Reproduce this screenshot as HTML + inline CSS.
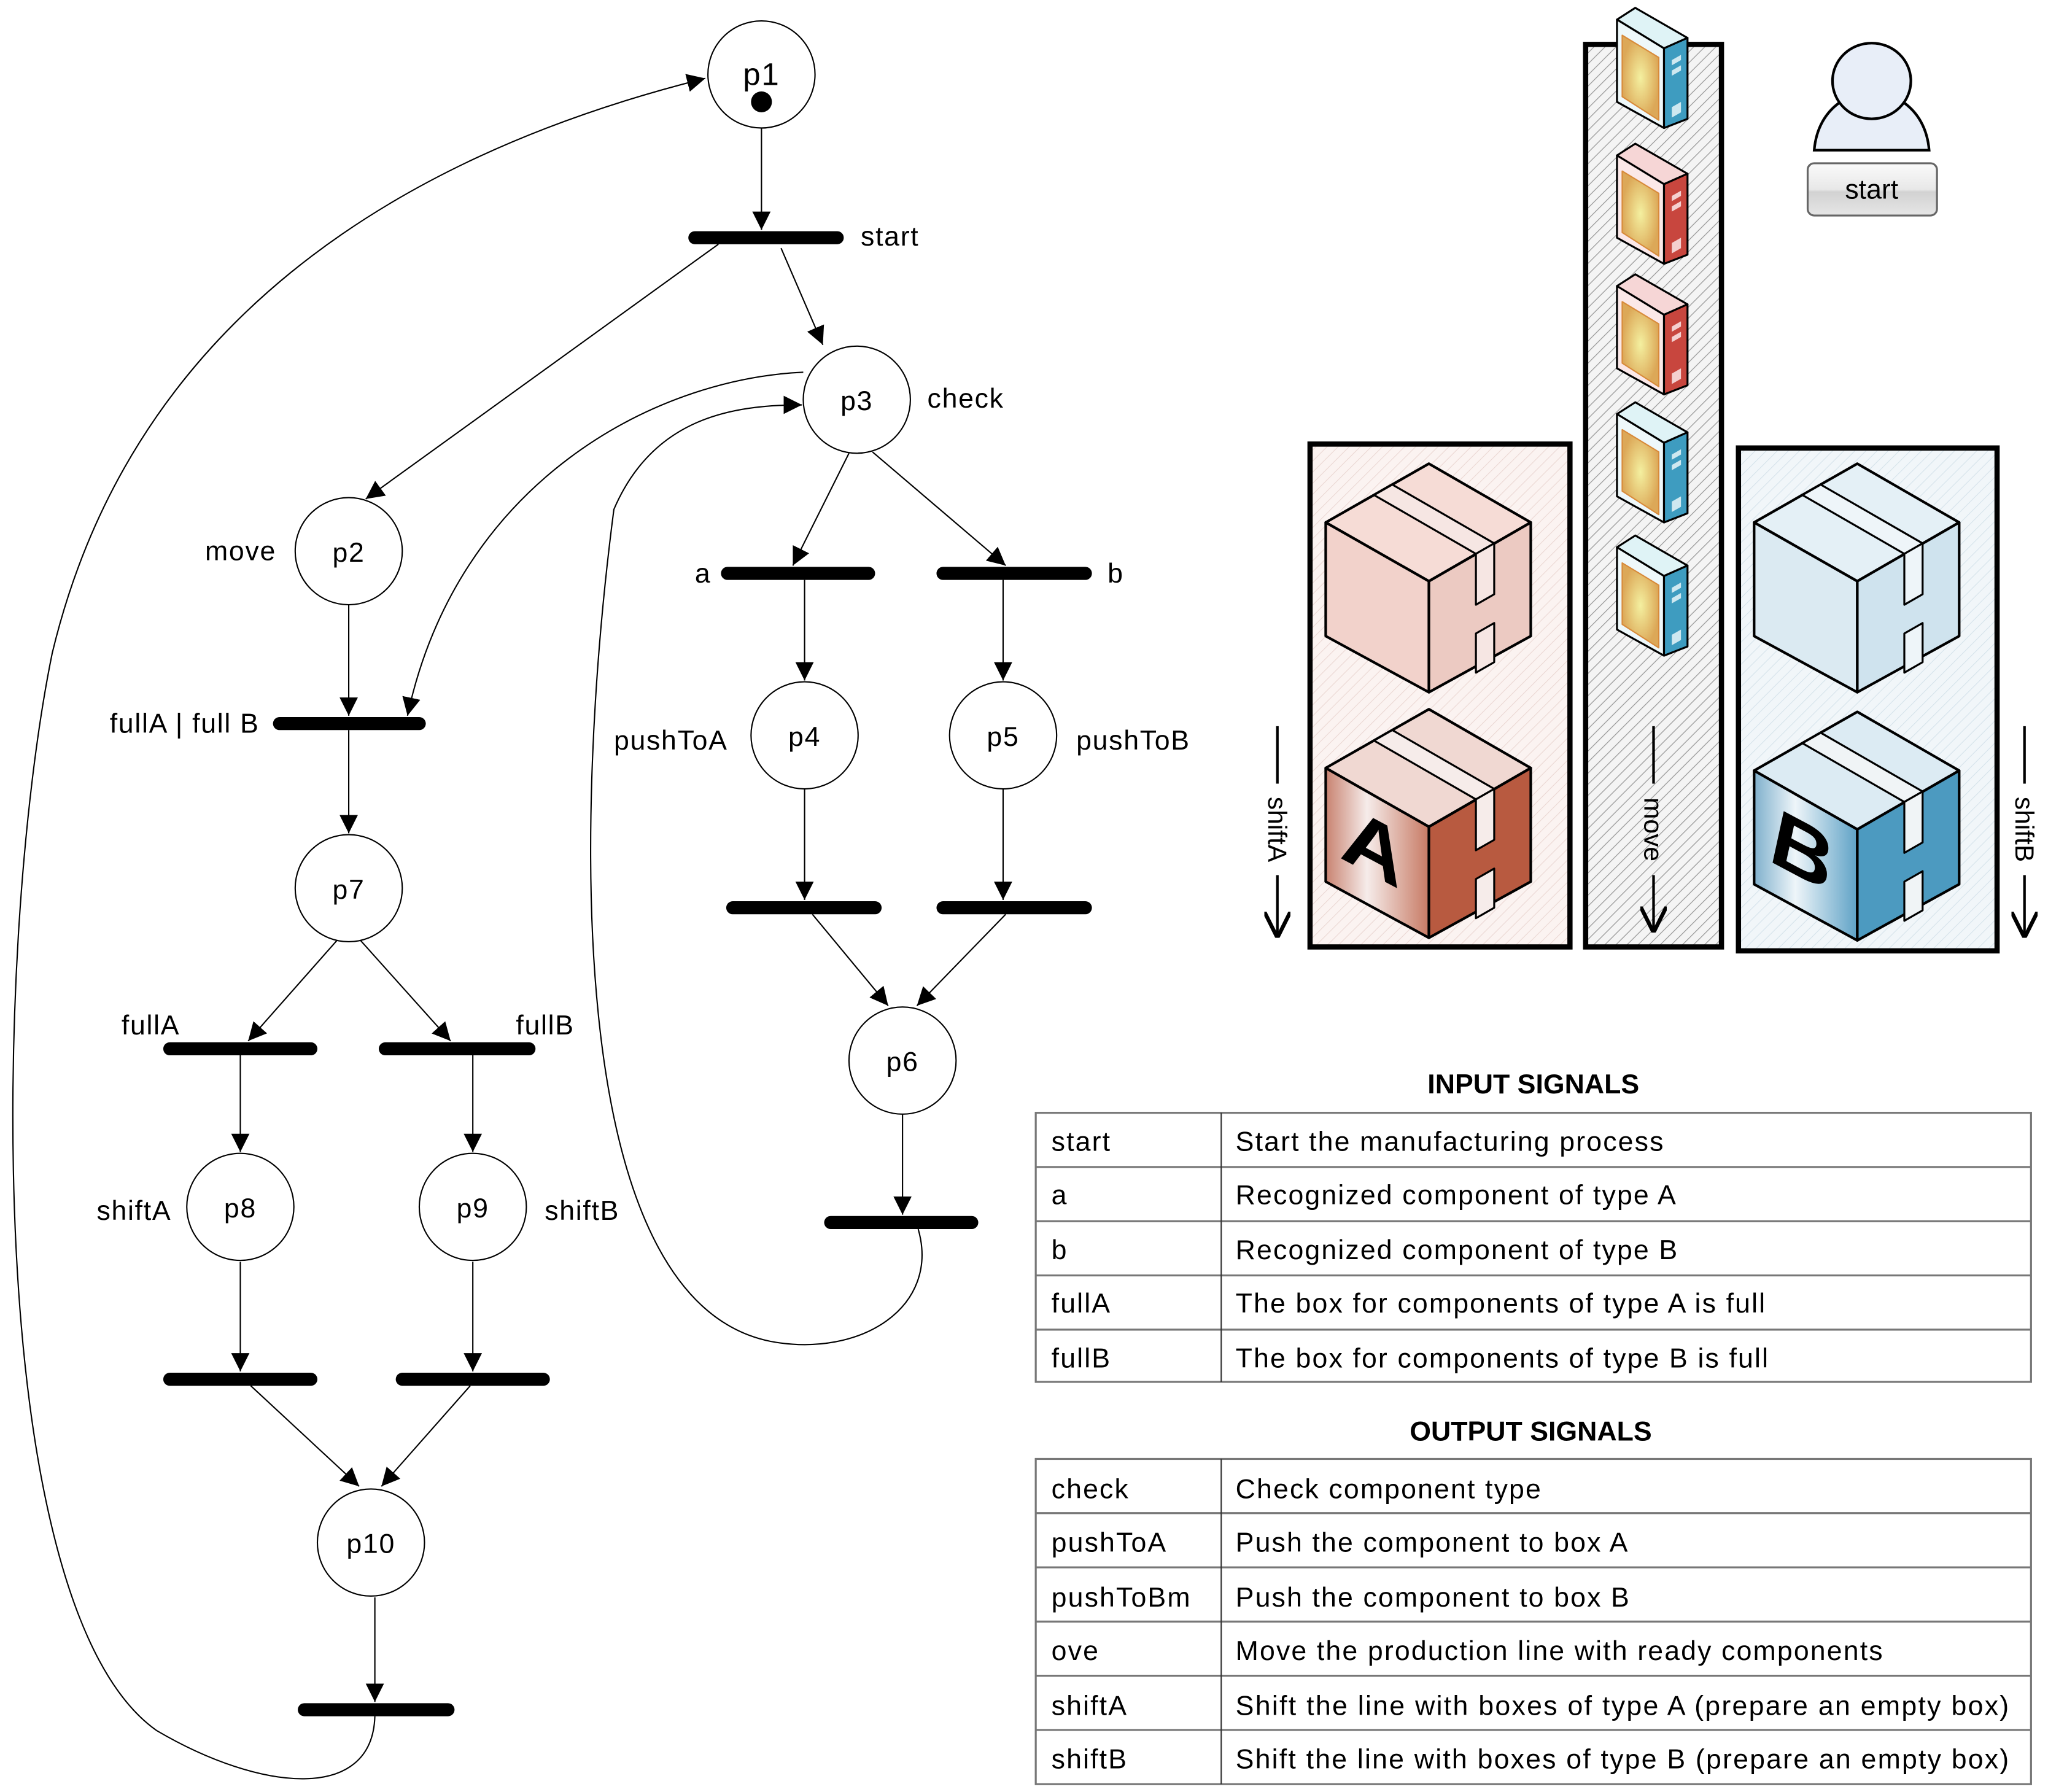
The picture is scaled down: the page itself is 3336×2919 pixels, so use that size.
<!DOCTYPE html>
<html><head><meta charset="utf-8"><style>html,body{margin:0;padding:0;background:#fff}svg{display:block}</style></head>
<body>
<svg xmlns="http://www.w3.org/2000/svg" width="3336" height="2919" viewBox="0 0 1568 1372" font-family="Liberation Sans, sans-serif">
<defs>
<marker id="ah" viewBox="0 0 10 10" refX="10" refY="5" markerWidth="14" markerHeight="14" markerUnits="userSpaceOnUse" orient="auto"><path d="M0,0 L10,5 L0,10 z" fill="#000"/></marker>
<marker id="ah2" viewBox="0 0 10 10" refX="10" refY="5" markerWidth="20" markerHeight="20" markerUnits="userSpaceOnUse" orient="auto"><path d="M0,0 L10,5 L0,10" fill="none" stroke="#000" stroke-width="1.5"/></marker>
<pattern id="hatch" width="6" height="6" patternUnits="userSpaceOnUse" patternTransform="rotate(45)"><rect width="6" height="6" fill="#f4f4f4"/><line x1="0" y1="0" x2="0" y2="6" stroke="#999" stroke-width="1.2"/></pattern>
<pattern id="hatchA" width="6" height="6" patternUnits="userSpaceOnUse" patternTransform="rotate(45)"><rect width="6" height="6" fill="#fbf3f1"/><line x1="0" y1="0" x2="0" y2="6" stroke="#ead6d2" stroke-width="1"/></pattern>
<pattern id="hatchB" width="6" height="6" patternUnits="userSpaceOnUse" patternTransform="rotate(45)"><rect width="6" height="6" fill="#f1f6f9"/><line x1="0" y1="0" x2="0" y2="6" stroke="#d4e2ea" stroke-width="1"/></pattern>
<radialGradient id="yel"><stop offset="0" stop-color="#f4f0a0"/><stop offset="1" stop-color="#dca858"/></radialGradient>
<linearGradient id="gA" x1="0" y1="0" x2="1" y2="0"><stop offset="0" stop-color="#c88270"/><stop offset="0.4" stop-color="#f6ecea"/><stop offset="1" stop-color="#c77a64"/></linearGradient>
<linearGradient id="gB" x1="0" y1="0" x2="1" y2="0"><stop offset="0" stop-color="#7fb0cc"/><stop offset="0.4" stop-color="#eef5f9"/><stop offset="1" stop-color="#5fa2c6"/></linearGradient>
<linearGradient id="btn" x1="0" y1="0" x2="0" y2="1"><stop offset="0" stop-color="#fafafa"/><stop offset="0.5" stop-color="#e8e8e8"/><stop offset="0.55" stop-color="#d2d2d2"/><stop offset="1" stop-color="#e6e6e6"/></linearGradient>
</defs>

<g fill="none" stroke="#000" stroke-width="1">
<circle cx="583" cy="57" r="41" fill="#fff"/>
<circle cx="656" cy="306" r="41" fill="#fff"/>
<circle cx="267" cy="422" r="41" fill="#fff"/>
<circle cx="267" cy="680" r="41" fill="#fff"/>
<circle cx="184" cy="924" r="41" fill="#fff"/>
<circle cx="362" cy="924" r="41" fill="#fff"/>
<circle cx="284" cy="1181" r="41" fill="#fff"/>
<circle cx="616" cy="563" r="41" fill="#fff"/>
<circle cx="768" cy="563" r="41" fill="#fff"/>
<circle cx="691" cy="812" r="41" fill="#fff"/>

<g marker-end="url(#ah)">
<path d="M583 98 L583 176"/>
<path d="M550 187 L280 382"/>
<path d="M598 190 L630 264"/>
<path d="M650 347 L607 433"/>
<path d="M668 346 L770 433"/>
<path d="M616 444 L616 521"/>
<path d="M768 444 L768 521"/>
<path d="M616 604 L616 689"/>
<path d="M768 604 L768 689"/>
<path d="M622 700 L680 770"/>
<path d="M770 700 L702 770"/>
<path d="M691 853 L691 930"/>
<path d="M703 941 C720 1000 660 1040 590 1027 C430 995 440 620 470 390 C500 320 560 310 614 310"/>
<path d="M615 285 C500 290 350 370 312 548"/>
<path d="M267 463 L267 548"/>
<path d="M267 559 L267 638"/>
<path d="M258 720 L190 797"/>
<path d="M276 720 L345 797"/>
<path d="M184 808 L184 882"/>
<path d="M362 808 L362 882"/>
<path d="M184 966 L184 1050"/>
<path d="M362 966 L362 1050"/>
<path d="M192 1061 L275 1138"/>
<path d="M360 1061 L292 1138"/>
<path d="M287 1223 L287 1303"/>
<path d="M287 1314 C285 1380 200 1372 120 1325 C-15 1230 -5 720 40 500 C100 250 300 120 540 60"/>
</g>
</g>
<circle cx="583" cy="78" r="8" fill="#000"/>

<g stroke="#000" stroke-width="10" stroke-linecap="round">
<line x1="532" y1="182" x2="641" y2="182"/>
<line x1="214" y1="554" x2="321" y2="554"/>
<line x1="130" y1="803" x2="238" y2="803"/>
<line x1="295" y1="803" x2="405" y2="803"/>
<line x1="130" y1="1056" x2="238" y2="1056"/>
<line x1="308" y1="1056" x2="416" y2="1056"/>
<line x1="233" y1="1309" x2="343" y2="1309"/>
<line x1="557" y1="439" x2="665" y2="439"/>
<line x1="722" y1="439" x2="831" y2="439"/>
<line x1="561" y1="695" x2="670" y2="695"/>
<line x1="722" y1="695" x2="831" y2="695"/>
<line x1="636" y1="936" x2="744" y2="936"/>
</g>

<g font-size="21" fill="#000" letter-spacing="0.8">
<text x="583" y="65" text-anchor="middle" font-size="24">p1</text>
<text x="656" y="314" text-anchor="middle">p3</text>
<text x="267" y="430" text-anchor="middle">p2</text>
<text x="267" y="688" text-anchor="middle">p7</text>
<text x="184" y="932" text-anchor="middle">p8</text>
<text x="362" y="932" text-anchor="middle">p9</text>
<text x="284" y="1189" text-anchor="middle">p10</text>
<text x="616" y="571" text-anchor="middle">p4</text>
<text x="768" y="571" text-anchor="middle">p5</text>
<text x="691" y="820" text-anchor="middle">p6</text>
<text x="659" y="188">start</text>
<text x="710" y="312">check</text>
<text x="157" y="429">move</text>
<text x="84" y="561">fullA | full B</text>
<text x="93" y="792">fullA</text>
<text x="395" y="792">fullB</text>
<text x="74" y="934">shiftA</text>
<text x="417" y="934">shiftB</text>
<text x="532" y="446">a</text>
<text x="848" y="446">b</text>
<text x="470" y="574">pushToA</text>
<text x="824" y="574">pushToB</text>
</g>

<rect x="1003" y="340" width="199" height="385" fill="url(#hatchA)" stroke="#000" stroke-width="4"/>
<rect x="1214" y="34" width="104" height="691" fill="url(#hatch)" stroke="#000" stroke-width="4"/>
<rect x="1331" y="343" width="198" height="385" fill="url(#hatchB)" stroke="#000" stroke-width="4"/>

<g stroke="#000" stroke-width="2" stroke-linejoin="round">
<g transform="translate(1094,355)">
<polygon points="0,0 78,45 0,90 -79,45" fill="#f6dcd6"/>
<polygon points="-79,45 0,90 0,175 -79,132" fill="#f2d2cb"/>
<polygon points="0,90 78,45 78,132 0,175" fill="#eccac2"/>
<polygon points="-42,24 -28,16 50,61 36,69" fill="#f6e6e3" stroke-width="1.5"/>
<polygon points="36,69 50,61 50,100 36,108" fill="#f6e6e3" stroke-width="1.5"/>
<polygon points="36,130 50,122 50,152 36,160" fill="#f6e6e3" stroke-width="1.5"/>
</g>
<g transform="translate(1094,543)">
<polygon points="0,0 78,45 0,90 -79,45" fill="#f0d8d2"/>
<polygon points="-79,45 0,90 0,175 -79,132" fill="url(#gA)"/>
<polygon points="0,90 78,45 78,132 0,175" fill="#b85a40"/>
<polygon points="-42,24 -28,16 50,61 36,69" fill="#f6ecea" stroke-width="1.5"/>
<polygon points="36,69 50,61 50,100 36,108" fill="#f6ecea" stroke-width="1.5"/>
<polygon points="36,130 50,122 50,152 36,160" fill="#f6ecea" stroke-width="1.5"/>
<text x="-66" y="150" font-size="64" font-weight="bold" font-style="italic" stroke="none" fill="#000" transform="skewY(28)">A</text>
</g>
<g transform="translate(1422,355)">
<polygon points="0,0 78,45 0,90 -79,45" fill="#e4f0f6"/>
<polygon points="-79,45 0,90 0,175 -79,132" fill="#dbeaf2"/>
<polygon points="0,90 78,45 78,132 0,175" fill="#cfe3ee"/>
<polygon points="-42,24 -28,16 50,61 36,69" fill="#eef5f9" stroke-width="1.5"/>
<polygon points="36,69 50,61 50,100 36,108" fill="#eef5f9" stroke-width="1.5"/>
<polygon points="36,130 50,122 50,152 36,160" fill="#eef5f9" stroke-width="1.5"/>
</g>
<g transform="translate(1422,545)">
<polygon points="0,0 78,45 0,90 -79,45" fill="#dcebf3"/>
<polygon points="-79,45 0,90 0,175 -79,132" fill="url(#gB)"/>
<polygon points="0,90 78,45 78,132 0,175" fill="#4c9ac0"/>
<polygon points="-42,24 -28,16 50,61 36,69" fill="#f0f4f6" stroke-width="1.5"/>
<polygon points="36,69 50,61 50,100 36,108" fill="#f0f4f6" stroke-width="1.5"/>
<polygon points="36,130 50,122 50,152 36,160" fill="#f0f4f6" stroke-width="1.5"/>
<text x="-66" y="150" font-size="64" font-weight="bold" font-style="italic" stroke="none" fill="#000" transform="skewY(28)">B</text>
</g>
</g>

<g stroke="#000" stroke-width="1.5" stroke-linejoin="round">
<g transform="translate(1252,6)">
<polygon points="0,0 40,23 22,31 -14,9" fill="#dff3f6"/>
<polygon points="-14,9 22,31 22,92 -14,72" fill="#eef8fa"/>
<polygon points="22,31 40,23 40,85 22,92" fill="#3e9cc0"/>
<polygon points="-10,21 18,38 18,86 -10,68" fill="url(#yel)" stroke="#d88a3a" stroke-width="1"/>
<polygon points="28,40 35,36 35,40 28,44" fill="#cfe8f0" stroke="none"/><polygon points="28,48 35,44 35,48 28,52" fill="#cfe8f0" stroke="none"/><polygon points="28,76 35,72 35,80 28,84" fill="#cfe8f0" stroke="none"/>
</g>
<g transform="translate(1252,110)">
<polygon points="0,0 40,23 22,31 -14,9" fill="#f6d6d6"/>
<polygon points="-14,9 22,31 22,92 -14,72" fill="#fbe8e8"/>
<polygon points="22,31 40,23 40,85 22,92" fill="#c8463e"/>
<polygon points="-10,21 18,38 18,86 -10,68" fill="url(#yel)" stroke="#d88a3a" stroke-width="1"/>
<polygon points="28,40 35,36 35,40 28,44" fill="#f4d0d0" stroke="none"/><polygon points="28,48 35,44 35,48 28,52" fill="#f4d0d0" stroke="none"/><polygon points="28,76 35,72 35,80 28,84" fill="#f4d0d0" stroke="none"/>
</g>
<g transform="translate(1252,210)">
<polygon points="0,0 40,23 22,31 -14,9" fill="#f6d6d6"/>
<polygon points="-14,9 22,31 22,92 -14,72" fill="#fbe8e8"/>
<polygon points="22,31 40,23 40,85 22,92" fill="#c8463e"/>
<polygon points="-10,21 18,38 18,86 -10,68" fill="url(#yel)" stroke="#d88a3a" stroke-width="1"/>
<polygon points="28,40 35,36 35,40 28,44" fill="#f4d0d0" stroke="none"/><polygon points="28,48 35,44 35,48 28,52" fill="#f4d0d0" stroke="none"/><polygon points="28,76 35,72 35,80 28,84" fill="#f4d0d0" stroke="none"/>
</g>
<g transform="translate(1252,308)">
<polygon points="0,0 40,23 22,31 -14,9" fill="#dff3f6"/>
<polygon points="-14,9 22,31 22,92 -14,72" fill="#eef8fa"/>
<polygon points="22,31 40,23 40,85 22,92" fill="#3e9cc0"/>
<polygon points="-10,21 18,38 18,86 -10,68" fill="url(#yel)" stroke="#d88a3a" stroke-width="1"/>
<polygon points="28,40 35,36 35,40 28,44" fill="#cfe8f0" stroke="none"/><polygon points="28,48 35,44 35,48 28,52" fill="#cfe8f0" stroke="none"/><polygon points="28,76 35,72 35,80 28,84" fill="#cfe8f0" stroke="none"/>
</g>
<g transform="translate(1252,410)">
<polygon points="0,0 40,23 22,31 -14,9" fill="#dff3f6"/>
<polygon points="-14,9 22,31 22,92 -14,72" fill="#eef8fa"/>
<polygon points="22,31 40,23 40,85 22,92" fill="#3e9cc0"/>
<polygon points="-10,21 18,38 18,86 -10,68" fill="url(#yel)" stroke="#d88a3a" stroke-width="1"/>
<polygon points="28,40 35,36 35,40 28,44" fill="#cfe8f0" stroke="none"/><polygon points="28,48 35,44 35,48 28,52" fill="#cfe8f0" stroke="none"/><polygon points="28,76 35,72 35,80 28,84" fill="#cfe8f0" stroke="none"/>
</g>
</g>

<path d="M1389 115 C1392 80 1420 70 1433 70 C1446 70 1474 80 1477 115 Z" fill="#e8eef8" stroke="#000" stroke-width="2"/>
<ellipse cx="1433" cy="62" rx="30" ry="29" fill="#e8eef8" stroke="#000" stroke-width="2"/>
<rect x="1384" y="125" width="99" height="40" rx="5" fill="url(#btn)" stroke="#666" stroke-width="1.5"/>
<text x="1433" y="152" text-anchor="middle" font-size="21">start</text>

<g stroke="#000" stroke-width="2" fill="none">
<line x1="978" y1="556" x2="978" y2="600"/><line x1="978" y1="670" x2="978" y2="718" marker-end="url(#ah2)"/>
<line x1="1266" y1="556" x2="1266" y2="600"/><line x1="1266" y1="670" x2="1266" y2="714" marker-end="url(#ah2)"/>
<line x1="1550" y1="556" x2="1550" y2="600"/><line x1="1550" y1="670" x2="1550" y2="718" marker-end="url(#ah2)"/>
</g>
<g font-size="20">
<text transform="translate(971,635) rotate(90)" text-anchor="middle">shiftA</text>
<text transform="translate(1259,635) rotate(90)" text-anchor="middle">move</text>
<text transform="translate(1543,635) rotate(90)" text-anchor="middle">shiftB</text>
</g>

<g font-size="21" letter-spacing="1">
<text x="1174" y="837" text-anchor="middle" font-weight="bold" letter-spacing="0">INPUT SIGNALS</text>
<g stroke="#777" stroke-width="1.5" fill="none">
<rect x="793" y="852" width="762" height="206"/>
<line x1="793" y1="893.5" x2="1555" y2="893.5"/><line x1="793" y1="935" x2="1555" y2="935"/><line x1="793" y1="976.5" x2="1555" y2="976.5"/><line x1="793" y1="1018" x2="1555" y2="1018"/>
<line x1="935" y1="852" x2="935" y2="1058" stroke="#333" stroke-width="1"/>
</g>
<text x="805" y="881">start</text><text x="946" y="881">Start the manufacturing process</text>
<text x="805" y="922">a</text><text x="946" y="922">Recognized component of type A</text>
<text x="805" y="964">b</text><text x="946" y="964">Recognized component of type B</text>
<text x="805" y="1005">fullA</text><text x="946" y="1005">The box for components of type A is full</text>
<text x="805" y="1047">fullB</text><text x="946" y="1047">The box for components of type B is full</text>

<text x="1172" y="1103" text-anchor="middle" font-weight="bold" letter-spacing="0">OUTPUT SIGNALS</text>
<g stroke="#777" stroke-width="1.5" fill="none">
<rect x="793" y="1117" width="762" height="249"/>
<line x1="793" y1="1158.5" x2="1555" y2="1158.5"/><line x1="793" y1="1200" x2="1555" y2="1200"/><line x1="793" y1="1241.5" x2="1555" y2="1241.5"/><line x1="793" y1="1283" x2="1555" y2="1283"/><line x1="793" y1="1324.5" x2="1555" y2="1324.5"/>
<line x1="935" y1="1117" x2="935" y2="1366" stroke="#333" stroke-width="1"/>
</g>
<text x="805" y="1147">check</text><text x="946" y="1147">Check component type</text>
<text x="805" y="1188">pushToA</text><text x="946" y="1188">Push the component to box A</text>
<text x="805" y="1230">pushToBm</text><text x="946" y="1230">Push the component to box B</text>
<text x="805" y="1271">ove</text><text x="946" y="1271">Move the production line with ready components</text>
<text x="805" y="1313">shiftA</text><text x="946" y="1313" letter-spacing="0" textLength="592">Shift the line with boxes of type A (prepare an empty box)</text>
<text x="805" y="1354">shiftB</text><text x="946" y="1354" letter-spacing="0" textLength="592">Shift the line with boxes of type B (prepare an empty box)</text>
</g>
</svg>
</body></html>
